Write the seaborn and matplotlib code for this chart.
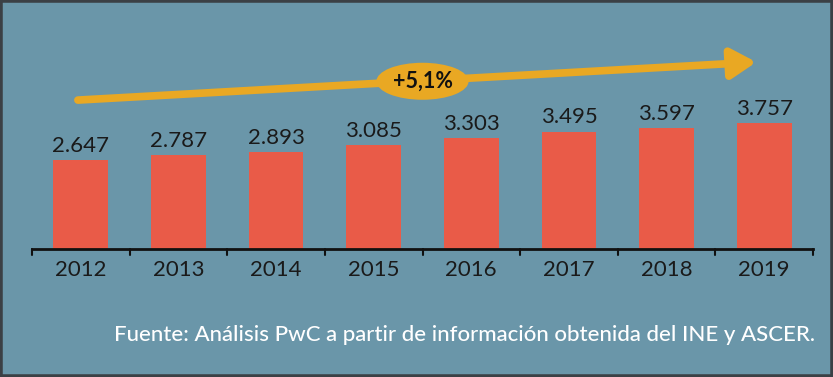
import matplotlib
matplotlib.use('Agg')
import matplotlib.pyplot as plt
import seaborn as sns
import pandas as pd
from matplotlib.patches import Rectangle

# data
years = ['2012', '2013', '2014', '2015', '2016', '2017', '2018', '2019']
values = [2647, 2787, 2893, 3085, 3303, 3495, 3597, 3757]
value_labels = ['2.647', '2.787', '2.893', '3.085', '3.303', '3.495', '3.597', '3.757']
growth_label = '+5,1%'
source_text = 'Fuente: Análisis PwC a partir de información obtenida del INE y ASCER.'

bg = '#6a96a9'
bar_color = '#e95b48'
arrow_color = '#e9a823'

sns.set_style('white')
plt.rcParams['font.family'] = ['Lato', 'DejaVu Sans']

data = pd.DataFrame({'year': years, 'value': values})

fig = plt.figure(figsize=(8.33, 3.77), dpi=100, facecolor=bg)
ax = fig.add_axes([32/833, 128/377, 781/833, 239/377])
ax.set_facecolor(bg)

sns.barplot(data=data, x='year', y='value', color=bar_color, width=0.56,
            saturation=1, edgecolor='none', linewidth=0, ax=ax)

ax.set_xlim(-0.5, 7.5)
ax.set_ylim(0, 7110)

for i, (v, lab) in enumerate(zip(values, value_labels)):
    ax.text(i, v + 120, lab, ha='center', va='bottom', fontsize=16, color='#1a1a1a')

# trend arrow
ax.annotate('', xy=(6.92, 5560), xytext=(-0.03, 4430),
            arrowprops=dict(arrowstyle='-|>,head_length=1.5,head_width=0.9',
                            color=arrow_color, lw=5.5, shrinkA=0, shrinkB=0))
ax.text(3.5, 4990, growth_label, ha='center', va='center', fontsize=15.5,
        fontweight='bold', color='#111111',
        bbox=dict(boxstyle='ellipse,pad=0.12', fc=arrow_color, ec='none'))

for s in ['top', 'right', 'left']:
    ax.spines[s].set_visible(False)
ax.spines['bottom'].set_color('#111111')
ax.spines['bottom'].set_linewidth(2)
ax.set_yticks([])
ax.set_xlabel('')
ax.set_ylabel('')
ax.set_xticks([i for i in range(8)])
ax.set_xticklabels(years, fontsize=16, color='#1a1a1a')
ax.tick_params(axis='x', length=0, pad=8)
# boundary ticks between categories
for b in [i - 0.5 for i in range(9)]:
    ax.plot([b, b], [0, -190], color='#111111', lw=1.5, clip_on=False)

fig.text(815/833, 1 - 335/377, source_text, ha='right', va='center',
         fontsize=16, color='white', fontweight='medium')

fig.patches.append(Rectangle((0, 0), 1, 1, transform=fig.transFigure,
                             fill=False, ec='#3b4045', lw=4))

fig.savefig('out.png', dpi=100, facecolor=bg)
